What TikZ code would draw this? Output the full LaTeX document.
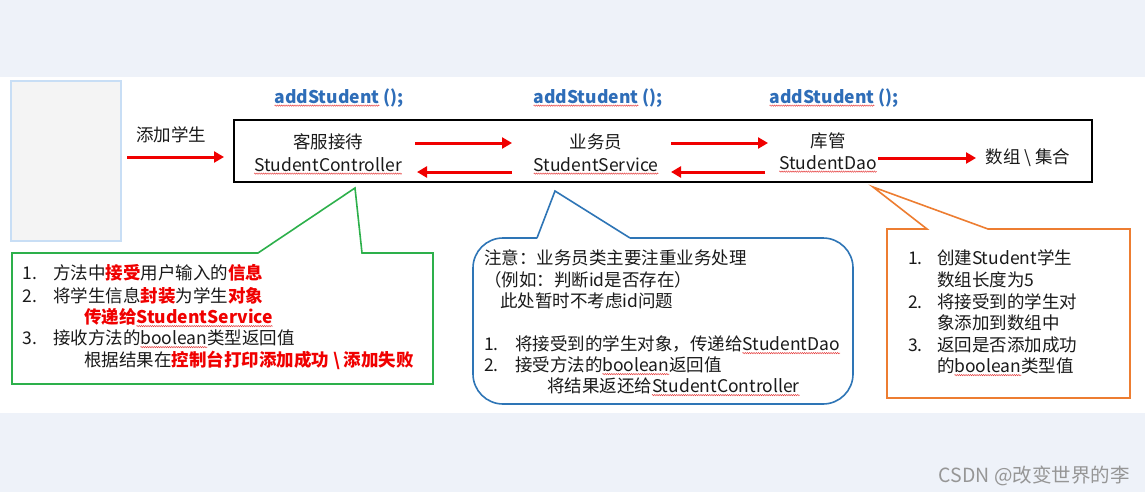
\documentclass[tikz,border=0pt]{standalone}
\usepackage{fontspec}
\setmainfont{Noto Sans CJK SC}
\usetikzlibrary{arrows.meta,decorations.pathmorphing}
\newsavebox\sqbox
\newlength\sqlen
\newcommand\squig[1]{\sbox\sqbox{#1}\setlength\sqlen{\wd\sqbox}\usebox\sqbox\tikz[overlay,x=1pt,y=1pt]\draw[draw={rgb,255:red,230;green,60;blue,60},line width=0.45pt,decorate,decoration={zigzag,amplitude=0.7pt,segment length=2.2pt}] (-\sqlen,-2.6pt) -- (0pt,-2.6pt);}
\definecolor{bgc}{HTML}{EEF2F9}
\definecolor{arrred}{HTML}{F00000}
\definecolor{titleblue}{HTML}{2E6DB8}
\definecolor{grn}{HTML}{2DB04B}
\definecolor{blu}{HTML}{2E75B6}
\definecolor{org}{HTML}{ED7D31}
\definecolor{txtc}{HTML}{1A1A1A}
\newcommand\rb[1]{\textcolor{arrred}{\bfseries #1}}
\begin{document}
\begin{tikzpicture}[x=1pt,y=-1pt,
  txt/.style={inner sep=0pt,outer sep=0pt,font=\fontsize{17.5}{20}\selectfont,text=txtc,anchor=base west},
  ctxt/.style={txt,anchor=base},
  title/.style={inner sep=0pt,font=\fontsize{17.5}{20}\selectfont\bfseries,text=titleblue,anchor=base},
  redarrow/.style={draw=arrred,line width=3pt,-{Triangle[length=10pt,width=11pt]}},
  callout/.style={line width=1.6pt,line join=miter}]
\useasboundingbox (0,0) rectangle (1145,492);
% backgrounds
\fill[bgc] (0,0) rectangle (1145,492);
\fill[white] (0,77) rectangle (1145,413);
% left screen box
\draw[draw={rgb,255:red,200;green,222;blue,245},line width=2pt,fill={rgb,255:red,244;green,244;blue,244}] (11,81) rectangle (121,241);
% entry label and arrow
\node[txt] (add) at (136,142) {添加学生};
\coordinate (e0) at (127,157);
\coordinate (e1) at (224,157);
\draw[redarrow] (e0) -- (e1);
% main box
\draw[black,line width=2pt] (234,120) rectangle (1092,182);
% titles
\node[title] (t1) at (339,103) {\squig{addStudent} ();};
\node[title] (t2) at (598,103) {\squig{addStudent} ();};
\node[title] (t3) at (834,103) {\squig{addStudent} ();};
% component labels
\node[ctxt] (c1a) at (328,149) {客服接待};
\node[ctxt] (c1b) at (328,171) {\squig{StudentController}};
\node[ctxt] (c2a) at (596,149) {业务员};
\node[ctxt] (c2b) at (596,171) {\squig{StudentService}};
\node[ctxt] (c3a) at (828,147) {库管};
\node[ctxt] (c3b) at (828,169) {\squig{StudentDao}};
\node[ctxt] (c4) at (1028,163) {数组 \textbackslash{} 集合};
% arrows
\coordinate (a1s) at (415,143); \coordinate (a1e) at (512,143);
\coordinate (b1s) at (512,172); \coordinate (b1e) at (417,172);
\coordinate (a2s) at (671,143); \coordinate (a2e) at (768,143);
\coordinate (b2s) at (765,172); \coordinate (b2e) at (671,172);
\coordinate (a3s) at (878,158); \coordinate (a3e) at (976,158);
\draw[redarrow] (a1s) -- (a1e);
\draw[redarrow] (b1s) -- (b1e);
\draw[redarrow] (a2s) -- (a2e);
\draw[redarrow] (b2s) -- (b2e);
\draw[redarrow] (a3s) -- (a3e);
% green callout
\draw[callout,draw=grn] (12,253) -- (258,253) -- (355,188) -- (362,253) -- (433,253) -- (433,384) -- (12,384) -- cycle;
\node[txt] (g1n) at (23,279.5) {1.};
\node[txt] (g1) at (53,279.5) {方法中\rb{接受}用户输入的\rb{信息}};
\node[txt] (g2n) at (23,302.5) {2.};
\node[txt] (g2) at (53,302.5) {将学生信息\rb{封装}为学生\rb{对象}};
\node[txt] (g3) at (84,323.5) {\rb{传递给\squig{StudentService}}};
\node[txt] (g4n) at (23,344.5) {3.};
\node[txt] (g4) at (53,344.5) {接收方法的\squig{boolean}类型返回值};
\node[txt] (g5) at (84,366.5) {根据结果在\rb{控制台打印添加成功 \textbackslash{} 添加失败}};
% blue callout
\draw[callout,draw=blu,rounded corners=30pt] (537,238) -- (473,238) -- (473,404) -- (853,404) -- (853,238) -- (630,238);
\draw[callout,draw=blu] (630,238) -- (555,191) -- (537,238);
\node[txt] (s1) at (484,264.5) {注意：业务员类主要注重业务处理};
\node[txt] (s2) at (484,286.5) {（例如：判断id是否存在）};
\node[txt] (s3) at (500,307.5) {此处暂时不考虑id问题};
\node[txt] (s4n) at (484,350.5) {1.};
\node[txt] (s4) at (515,350.5) {将接受到的学生对象，传递给\squig{StudentDao}};
\node[txt] (s5n) at (484,371.5) {2.};
\node[txt] (s5) at (515,371.5) {接受方法的\squig{boolean}返回值};
\node[txt] (s6) at (547,392.5) {将结果返还给\squig{StudentController}};
% orange callout
\draw[callout,draw=org] (887,229) -- (927,229) -- (873,187) -- (988,229) -- (1130,229) -- (1130,398) -- (887,398) -- cycle;
\node[txt] (o1n) at (908,264.5) {1.};
\node[txt] (o1) at (937,264.5) {创建Student学生};
\node[txt] (o2) at (937,286.5) {数组长度为5};
\node[txt] (o3n) at (908,308.5) {2.};
\node[txt] (o3) at (937,308.5) {将接受到的学生对};
\node[txt] (o4) at (937,329.5) {象添加到数组中};
\node[txt] (o5n) at (908,351.5) {3.};
\node[txt] (o5) at (937,351.5) {返回是否添加成功};
\node[txt] (o6) at (937,372.5) {的\squig{boolean}类型值};
% watermark
\node[inner sep=0pt,anchor=base east,font=\fontsize{19.5}{22}\selectfont,text={rgb,255:red,150;green,150;blue,150}] (wm) at (1130,482) {CSDN @改变世界的李};
\end{tikzpicture}
\end{document}
